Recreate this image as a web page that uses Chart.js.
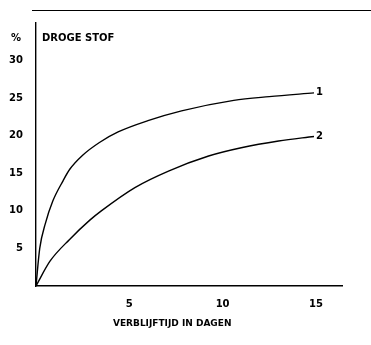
<!DOCTYPE html>
<html>
<head>
<meta charset="utf-8">
<script src="https://cdn.jsdelivr.net/npm/chart.js@4"></script>
<style>
  html, body { margin: 0; padding: 0; background: #fff; }
  #wrap { width: 371px; height: 345px; }
</style>
</head>
<body>
<div id="wrap"><canvas id="drogeStofChart"></canvas></div>
<script>
// data
const days1 = [0, 0.2, 0.5, 0.9, 1.45, 1.8, 2.5, 3.4, 4.4, 6, 7.8, 10.6, 12.5, 14.9];
const drogeStof1 = [0, 5, 8.3, 11.3, 14, 15.5, 17.4, 19.1, 20.5, 22, 23.3, 24.7, 25.2, 25.7];
const days2 = [0, 0.75, 1.8, 2.9, 3.5, 5.3, 7.1, 9.25, 11, 13, 14.9];
const drogeStof2 = [0, 3.3, 6.2, 8.8, 10, 13.1, 15.3, 17.3, 18.4, 19.3, 19.9];
const xTicks = [5, 10, 15];
const yTicks = [5, 10, 15, 20, 25, 30];
const curveLabels = ['1', '2'];

const font = { family: 'DejaVu Sans', size: 10, weight: 'bold' };

const toPoints = (xs, ys) => xs.map((x, i) => ({ x: x, y: ys[i] }));

// extra text: unit, title, axis name, curve numbers, top border
const annotations = {
    id: 'annotations',
    afterDraw(chart) {
        const ctx = chart.ctx;
        const area = chart.chartArea;
        const x = chart.scales.x;
        const y = chart.scales.y;
        ctx.save();
        ctx.fillStyle = '#000';
        ctx.strokeStyle = '#000';

        ctx.lineWidth = 1;
        ctx.beginPath();
        ctx.moveTo(area.left - 4, 10.5);
        ctx.lineTo(chart.width, 10.5);
        ctx.stroke();

        ctx.textBaseline = 'middle';
        ctx.textAlign = 'left';
        ctx.font = 'bold 10px "DejaVu Sans"';
        ctx.fillText('%', 11, 38);
        ctx.fillText('DROGE STOF', area.left + 6, 38);

        ctx.font = 'bold 9px "DejaVu Sans"';
        ctx.textAlign = 'center';
        ctx.fillText('VERBLIJFTIJD IN DAGEN', x.getPixelForValue(7.3), 324);

        ctx.font = 'bold 10px "DejaVu Sans"';
        ctx.textAlign = 'left';
        chart.data.datasets.forEach((ds, i) => {
            const last = ds.data[ds.data.length - 1];
            ctx.fillText(curveLabels[i], x.getPixelForValue(last.x) + 2, y.getPixelForValue(last.y));
        });
        ctx.restore();
    }
};

new Chart(document.getElementById('drogeStofChart'), {
    type: 'line',
    data: {
        datasets: [
            { data: toPoints(days1, drogeStof1) },
            { data: toPoints(days2, drogeStof2) }
        ]
    },
    options: {
        responsive: true,
        maintainAspectRatio: false,
        animation: false,
        layout: { padding: { top: 23, right: 29, bottom: 23, left: 9 } },
        elements: {
            line: { borderColor: '#000', borderWidth: 1.4, cubicInterpolationMode: 'monotone' },
            point: { radius: 0 }
        },
        plugins: {
            legend: { display: false },
            tooltip: { enabled: false }
        },
        scales: {
            x: {
                type: 'linear',
                min: 0,
                max: 16.4,
                grid: { display: false, drawTicks: false },
                border: { color: '#000', width: 1.4 },
                afterBuildTicks: axis => { axis.ticks = xTicks.map(v => ({ value: v })); },
                ticks: { color: '#000', font: font, padding: 12, maxRotation: 0 }
            },
            y: {
                min: 0,
                max: 35,
                grid: { display: false, drawTicks: false },
                border: { color: '#000', width: 1.4 },
                afterBuildTicks: axis => { axis.ticks = yTicks.map(v => ({ value: v })); },
                afterFit: axis => { axis.width = 27; },
                ticks: { color: '#000', font: font, padding: 13 }
            }
        }
    },
    plugins: [annotations]
});
</script>
</body>
</html>
